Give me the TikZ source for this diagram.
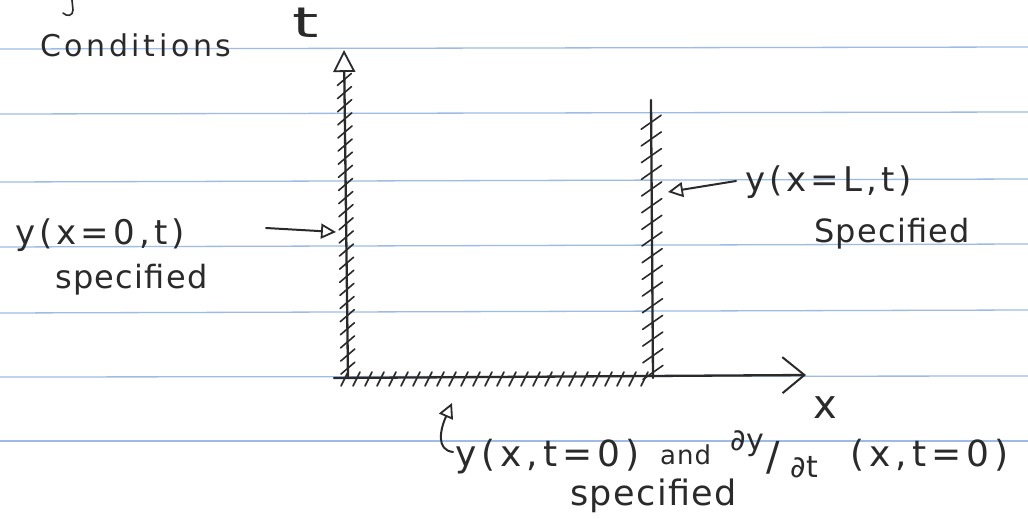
\documentclass[tikz,border=0pt]{standalone}
\usepackage{fontspec}
\setmainfont{DejaVu Sans}
\newfontfamily\hand[LetterSpace=12]{DejaVu Sans}
\newfontfamily\handb[LetterSpace=14]{DejaVu Sans}
\newfontfamily\handt[LetterSpace=4]{DejaVu Sans}
\usetikzlibrary{arrows.meta,calc}
\definecolor{ink}{HTML}{2A2A2A}
\definecolor{rulecol}{HTML}{9DBBE6}
\begin{document}
\begin{tikzpicture}[x=1pt,y=-1pt,
  axisline/.style={draw=ink, line width=2.3pt, line cap=round, line join=round},
  hatchline/.style={draw=ink, line width=1.6pt, line cap=round},
  nbline/.style={draw=rulecol, line width=1.3pt},
  ptr/.style={draw=ink, line width=2pt, line cap=round, -{Triangle[open, length=15pt, width=15pt, line width=1.8pt]}},
  lbl/.style={text=ink, inner sep=0pt, anchor=base west, font=\hand\fontsize{34}{38}\selectfont},
  wrd/.style={text=ink, inner sep=0pt, anchor=base west, font=\handt\fontsize{32}{36}\selectfont}]
\useasboundingbox[fill=white] (0,0) rectangle (1028,519);
% notebook ruling
\foreach \yl/\yr in {49/47,114/112,182/179,247/244,313/310,377/376,441/441}
  \draw[nbline] (0,\yl) -- (1028,\yr);
% cut-off stroke at top
\draw[draw=ink, line width=1.6pt, line cap=round] (72,0) -- (73,10) .. controls (73,16) and (67,17) .. (63,13);
% axes
\coordinate (O) at (348,378);
\coordinate (T) at (344,50);
\coordinate (X) at (806,375);
\coordinate (Xs) at (334,378);
\coordinate (Rb) at (653,378);
\coordinate (Rt) at (651,100);
\draw[axisline, -{Triangle[open, length=22pt, width=22pt, line width=1.8pt]}] (O) -- (T);
\draw[axisline, -{Straight Barb[length=22pt, width=36pt, line width=2pt]}] (Xs) -- (X);
\draw[axisline] (Rb) -- (Rt);
% hatches on t axis
\foreach \s in {0.03,0.07,...,0.95}
  \draw[hatchline] ($(O)!\s!(T)+(-7,6)$) -- ++(14,-12);
% hatches on right wall
\foreach \s in {0.02,0.08,...,0.97}
  \draw[hatchline] ($(Rb)!\s!(Rt)+(-10,7)$) -- ++(20,-14);
% hatches on x axis
\foreach \xx in {345,357,...,645}
  \draw[hatchline] (\xx-4,386) -- (\xx+3,372);
% labels
\node[lbl, font=\hand\fontsize{30}{34}\selectfont] (cond) at (40,57) {Conditions};
\node[lbl, font=\hand\fontsize{42}{46}\selectfont, xscale=1.6] (tl) at (292,38) {t};
\node[lbl, font=\hand\fontsize{40}{44}\selectfont] (xl) at (813,418) {x};
\node[lbl] (left) at (15,244) {y(x=0,t)};
\node[wrd] (lefts) at (55,288) {specified};
\node[lbl] (right) at (745,191) {y(x=L,t)};
\node[wrd, font=\handt\fontsize{32}{36}\selectfont] (rights) at (814,242) {Specified};
\node[lbl, font=\handb\fontsize{36}{40}\selectfont] (bot1) at (455,466) {y(x,t=0)};
\node[wrd, font=\handt\fontsize{26}{30}\selectfont] (and) at (660,464) {and};
\node[wrd, font=\handt\fontsize{30}{34}\selectfont] (dy) at (730,450) {∂y};
\node[wrd, font=\fontsize{40}{44}\selectfont] (slash) at (766,470) {/};
\node[wrd, font=\handt\fontsize{30}{34}\selectfont] (dt) at (790,477) {∂t};
\node[lbl, font=\handb\fontsize{36}{40}\selectfont] (bot2) at (850,466) {(x,t=0)};
\node[wrd, font=\handt\fontsize{35}{39}\selectfont] (bots) at (570,505) {specified};
% pointers
\coordinate (la) at (266,228);
\coordinate (lb) at (336,232);
\draw[ptr] (la) -- (lb);
\coordinate (ra) at (736,181);
\coordinate (rb) at (668,192);
\draw[ptr] (ra) -- (rb);
\coordinate (ba) at (453,452);
\coordinate (bb) at (452,403);
\draw[ptr] (ba) .. controls (436,450) and (440,430) .. (bb);
\end{tikzpicture}
\end{document}
